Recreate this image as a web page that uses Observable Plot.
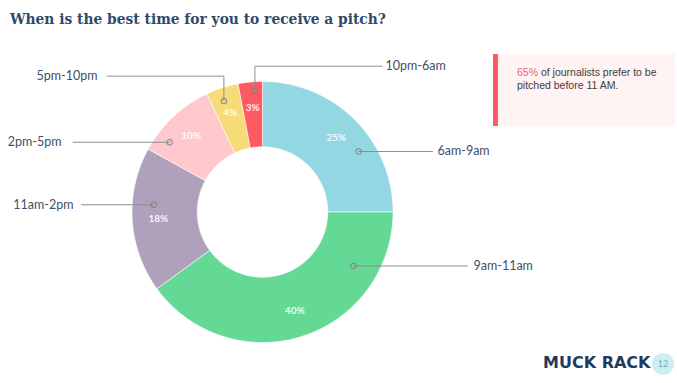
<!DOCTYPE html>
<html><head><meta charset="utf-8">
<script src="https://cdn.jsdelivr.net/npm/d3@7"></script>
<script src="https://cdn.jsdelivr.net/npm/@observablehq/plot@0.6"></script>
<style>
html,body{margin:0;padding:0;background:#fff}
body{width:677px;height:383px;overflow:hidden;position:relative}
#chart{position:absolute;left:0;top:0}
#title{position:absolute;left:10px;top:9px;font-weight:bold;font-family:"DejaVu Serif Condensed","DejaVu Serif",serif;font-size:16px;line-height:20px;color:#2f4a6b;white-space:nowrap}
#callout{position:absolute;left:493px;top:54px;width:182px;height:72px;background:#fff3f3;border-left:5px solid #ff5a64;box-sizing:border-box;padding:12px 0 0 19px;font:10.5px "Liberation Sans",Arial,sans-serif;line-height:13.3px;color:#3d3d3d}
#callout b{font-weight:normal;color:#f0646e}
#logo{position:absolute;left:543px;top:353px;font:bold 16px "DejaVu Sans",sans-serif;line-height:20px;color:#1f3a5e;white-space:nowrap}
#page{position:absolute;left:652px;top:353px;width:22px;height:22px;border-radius:50%;background:#cfeef3;color:#6fb0bd;font:9px "Lato",sans-serif;line-height:22px;text-align:center}
</style></head>
<body>
<div id="chart"></div>
<div id="title">When is the best time for you to receive a pitch?</div>
<div id="callout"><b>65%</b> of journalists prefer to be<br>pitched before 11 AM.</div>
<div id="logo">MUCK RACK</div>
<div id="page">12</div>
<script>
// ---- data ----
const categories = ["6am-9am", "9am-11am", "11am-2pm", "2pm-5pm", "5pm-10pm", "10pm-6am"];
const shares = [25, 40, 18, 10, 4, 3];
const shareLabels = ["25%", "40%", "18%", "10%", "4%", "3%"];

// ---- styles / layout ----
const colors = ["#93d7e3", "#64d996", "#afa1bb", "#ffc8cc", "#f5dc78", "#ff5a64"];
const W = 677, H = 383, CX = 262, CY = 211.5, R = 130.5;
const inner = 0.5, labelRadius = 0.8;
// leader layout per category: dot angle (deg, clockwise from 12), dot radius, elbow y (unit), line end x, text x (unit)
const leaderAngle = [57.8, 120.7, 273.8, 306.9, 340.8, 356.4];
const leaderRadius = [0.87, 0.81, 0.835, 0.89, 0.90, 0.93];
const leaderElbowY = [null, null, null, null, 1.041, 1.117];
const leaderEndX = [1.303, 1.569, -1.387, -1.451, -1.190, 0.917];
const leaderTextX = [1.341, 1.617, -1.448, -1.540, -1.264, 0.943];

// fit title width to the reference (about 376px)
(function fitTitle() {
  const el = document.getElementById("title");
  const target = 376;
  const w = el.getBoundingClientRect().width;
  if (w > 0) el.style.fontSize = (16 * target / w).toFixed(2) + "px";
})();

const rad = d => d * Math.PI / 180;
const polar = (a, r) => ({u: Math.sin(rad(a)) * r, v: Math.cos(rad(a)) * r});

const total = d3.sum(shares);
let acc = 0;
const slices = categories.map((c, i) => {
  const a0 = acc / total * 360; acc += shares[i];
  const a1 = acc / total * 360;
  return {key: c, a0, a1, mid: (a0 + a1) / 2, label: shareLabels[i]};
});

const ring = [];
for (const s of slices) {
  const n = Math.max(2, Math.ceil((s.a1 - s.a0) / 0.5));
  for (let k = 0; k <= n; k++) { const a = s.a0 + (s.a1 - s.a0) * k / n; ring.push({key: s.key, ...polar(a, 1)}); }
  for (let k = n; k >= 0; k--) { const a = s.a0 + (s.a1 - s.a0) * k / n; ring.push({key: s.key, ...polar(a, inner)}); }
  ring.push({key: s.key, ...polar(s.a0, 1)});
}

const pct = slices.map(s => ({label: s.label, ...polar(s.mid, labelRadius)}));

const dots = categories.map((c, i) => ({key: c, ...polar(leaderAngle[i], leaderRadius[i])}));
const leaders = [];
const texts = [];
categories.forEach((c, i) => {
  const d = dots[i];
  leaders.push({key: c, u: d.u, v: d.v});
  let y = d.v;
  if (leaderElbowY[i] !== null) { y = leaderElbowY[i]; leaders.push({key: c, u: d.u, v: y}); }
  leaders.push({key: c, u: leaderEndX[i], v: y});
  texts.push({key: c, u: leaderTextX[i], v: y, anchor: leaderTextX[i] < 0 ? "end" : "start"});
});

const chart = Plot.plot({
  width: W, height: H,
  margin: 0,
  x: {domain: [-CX / R, (W - CX) / R], range: [0, W], axis: null},
  y: {domain: [(CY - H) / R, CY / R], range: [H, 0], axis: null},
  color: {domain: categories, range: colors},
  style: {fontFamily: "Lato, sans-serif", background: "transparent"},
  marks: [
    Plot.line(ring, {x: "u", y: "v", z: "key", fill: "key", stroke: "white", strokeWidth: 0.6, curve: "linear"}),
    Plot.text(pct, {x: "u", y: "v", text: "label", fill: "white", fontSize: 10, fontWeight: "bold", fillOpacity: 0.9}),
    Plot.line(leaders, {x: "u", y: "v", z: "key", stroke: "#8e8e8e", strokeWidth: 1, curve: "linear"}),
    Plot.dot(dots, {x: "u", y: "v", r: 2.8, stroke: "#7f7f7f", strokeWidth: 1, fill: "none"}),
    Plot.text(texts.filter(t => t.anchor === "start"), {x: "u", y: "v", text: "key", textAnchor: "start", fill: "#3f5069", fontSize: 12.5}),
    Plot.text(texts.filter(t => t.anchor === "end"), {x: "u", y: "v", text: "key", textAnchor: "end", fill: "#3f5069", fontSize: 12.5})
  ]
});
document.getElementById("chart").appendChild(chart);
</script>
</body></html>
